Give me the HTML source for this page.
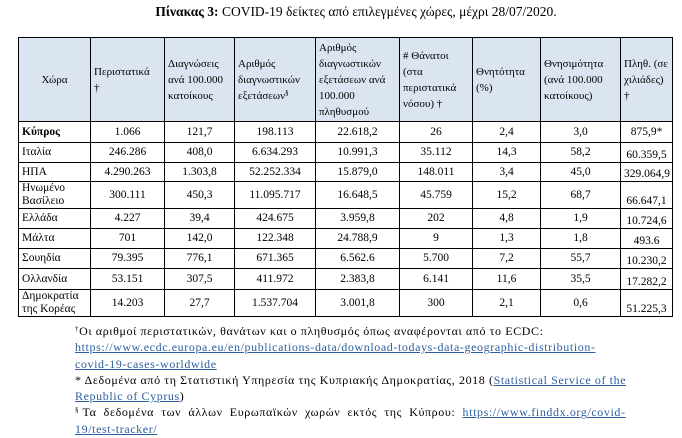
<!DOCTYPE html>
<html><head><meta charset="utf-8"><style>
body{margin:0;width:682px;height:438px;background:#fff;font-family:"Liberation Serif","DejaVu Serif",serif;color:#000;position:relative;overflow:hidden}
.t{position:absolute;left:0;width:682px;top:4px;text-align:center;font-size:13.5px;padding-left:30px;box-sizing:border-box}
table{position:absolute;left:18px;top:37px;border-collapse:collapse;font-size:11.5px;table-layout:fixed;width:654px}
td{border:1px solid #000;padding:0 3px;text-align:center;line-height:13px;overflow:hidden}
tr.h td{background:#dbe5f1;text-align:left;vertical-align:middle;font-size:11px;line-height:16px}
tr.h td:first-child{text-align:center}
td:first-child{text-align:left}
td:last-child{vertical-align:bottom}
.f{position:absolute;left:75px;top:323px;font-size:12px;line-height:16.3px;letter-spacing:0.6px}
.f div{white-space:nowrap;height:16.3px}
a{color:#2e5f9e;text-decoration:underline}
sup{font-size:7px;line-height:0;vertical-align:4px}
</style></head><body>
<div class="t"><b>Πίνακας 3:</b> COVID-19 δείκτες από επιλεγμένες χώρες, μέχρι 28/07/2020.</div>
<table>
<colgroup><col style="width:72px"><col style="width:74px"><col style="width:70px"><col style="width:81px"><col style="width:84px"><col style="width:73px"><col style="width:68px"><col style="width:80px"><col style="width:52px"></colgroup>
<tr class="h" style="height:84px"><td>Χώρα</td><td>Περιστατικά<br>†</td><td>Διαγνώσεις ανά 100.000 κατοίκους</td><td>Αριθμός διαγνωστικών εξετάσεων<sup>§</sup></td><td>Αριθμός διαγνωστικών εξετάσεων ανά 100.000 πληθυσμού</td><td># Θάνατοι<br>(στα περιστατικά νόσου) †</td><td>Θνητότητα (%)</td><td>Θνησιμότητα (ανά 100.000 κατοίκους)</td><td style="vertical-align:middle">Πληθ. (σε χιλιάδες) †</td></tr>
<tr style="height:21px"><td><b>Κύπρος</b></td><td>1.066</td><td>121,7</td><td>198.113</td><td>22.618,2</td><td>26</td><td>2,4</td><td>3,0</td><td style="vertical-align:middle">875,9*</td></tr>
<tr style="height:20px"><td>Ιταλία</td><td>246.286</td><td>408,0</td><td>6.634.293</td><td>10.991,3</td><td>35.112</td><td>14,3</td><td>58,2</td><td>60.359,5</td></tr>
<tr style="height:19px"><td>ΗΠΑ</td><td>4.290.263</td><td>1.303,8</td><td>52.252.334</td><td>15.879,0</td><td>148.011</td><td>3,4</td><td>45,0</td><td>329.064,9</td></tr>
<tr style="height:26px"><td>Ηνωμένο Βασίλειο</td><td>300.111</td><td>450,3</td><td>11.095.717</td><td>16.648,5</td><td>45.759</td><td>15,2</td><td>68,7</td><td>66.647,1</td></tr>
<tr style="height:20px"><td>Ελλάδα</td><td>4.227</td><td>39,4</td><td>424.675</td><td>3.959,8</td><td>202</td><td>4,8</td><td>1,9</td><td>10.724,6</td></tr>
<tr style="height:20px"><td>Μάλτα</td><td>701</td><td>142,0</td><td>122.348</td><td>24.788,9</td><td>9</td><td>1,3</td><td>1,8</td><td>493.6</td></tr>
<tr style="height:20px"><td>Σουηδία</td><td>79.395</td><td>776,1</td><td>671.365</td><td>6.562.6</td><td>5.700</td><td>7,2</td><td>55,7</td><td>10.230,2</td></tr>
<tr style="height:21px"><td>Ολλανδία</td><td>53.151</td><td>307,5</td><td>411.972</td><td>2.383,8</td><td>6.141</td><td>11,6</td><td>35,5</td><td>17.282,2</td></tr>
<tr style="height:27px"><td>Δημοκρατία της Κορέας</td><td>14.203</td><td>27,7</td><td>1.537.704</td><td>3.001,8</td><td>300</td><td>2,1</td><td>0,6</td><td>51.225,3</td></tr>
</table>
<div class="f">
<div><sup>†</sup>Οι αριθμοί περιστατικών, θανάτων και ο πληθυσμός όπως αναφέρονται από το ECDC:</div>
<div><a>https://www.ecdc.europa.eu/en/publications-data/download-todays-data-geographic-distribution-</a></div>
<div><a>covid-19-cases-worldwide</a></div>
<div>* Δεδομένα από τη Στατιστική Υπηρεσία της Κυπριακής Δημοκρατίας, 2018 (<a>Statistical Service of the</a></div>
<div><a>Republic of Cyprus</a>)</div>
<div><sup>§</sup> Τα &nbsp;δεδομένα &nbsp;των &nbsp;άλλων &nbsp;Ευρωπαϊκών &nbsp;χωρών &nbsp;εκτός &nbsp;της &nbsp;Κύπρου: &nbsp;<a>https://www.finddx.org/covid-</a></div>
<div><a>19/test-tracker/</a></div>
</div>
</body></html>
